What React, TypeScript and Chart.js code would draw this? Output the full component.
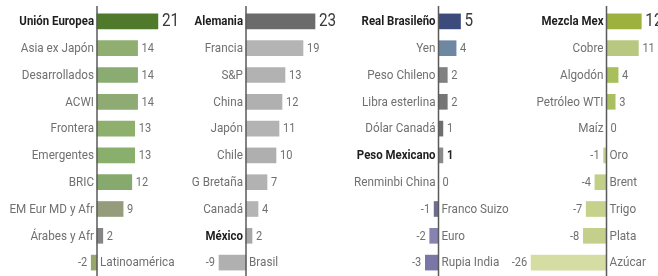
import React, { useEffect, useRef } from "react";
import { Chart, registerables } from "chart.js";

Chart.register(...registerables);

const regionLabels = ["Unión Europea", "Asia ex Japón", "Desarrollados", "ACWI", "Frontera", "Emergentes", "BRIC", "EM Eur MD y Afr", "Árabes y Afr", "Latinoamérica"];
const regionValues = [21, 14, 14, 14, 13, 13, 12, 9, 2, -2];
const regionColors = ["#4f7a2c", "#8fae70", "#8aab72", "#8fab74", "#8eb06c", "#8aae6c", "#86aa6e", "#949c7c", "#858585", "#98a66c"];

const stockLabels = ["Alemania", "Francia", "S&P", "China", "Japón", "Chile", "G Bretaña", "Canadá", "México", "Brasil"];
const stockValues = [23, 19, 13, 12, 11, 10, 7, 4, 2, -9];
const stockColors = ["#6b6b6b", "#b4b4b4", "#b2b2b2", "#b0b0b0", "#b3b3b3", "#afafaf", "#b2b2b2", "#b4b4b4", "#a8a8a8", "#b0b0b0"];

const fxLabels = ["Real Brasileño", "Yen", "Peso Chileno", "Libra esterlina", "Dólar Canadá", "Peso Mexicano", "Renminbi China", "Franco Suizo", "Euro", "Rupia India"];
const fxValues = [5, 4, 2, 2, 1, 1, 0, -1, -2, -3];
const fxColors = ["#3d4b7c", "#6e88a2", "#818181", "#767676", "#6e6e6e", "#8a8a8a", "#8a8a8a", "#6f6e8c", "#8683b0", "#7a76a8"];

const commLabels = ["Mezcla Mex", "Cobre", "Algodón", "Petróleo WTI", "Maíz", "Oro", "Brent", "Trigo", "Plata", "Azúcar"];
const commValues = [12, 11, 4, 3, 0, -1, -4, -7, -8, -26];
const commColors = ["#9db23e", "#b9c880", "#a9bf5c", "#aac060", "#c4d08a", "#c4d08a", "#c2cf86", "#c6d28c", "#c3cf8a", "#d5dda2"];

const boldLabels = ["Unión Europea", "Alemania", "Real Brasileño", "Mezcla Mex", "México", "Peso Mexicano"];

const panels = [
  { labels: regionLabels, values: regionValues, colors: regionColors, zero: 97, ppu: 2.9 },
  { labels: stockLabels, values: stockValues, colors: stockColors, zero: 246, ppu: 3.0 },
  { labels: fxLabels, values: fxValues, colors: fxColors, zero: 438.5, ppu: 4.4 },
  { labels: commLabels, values: commValues, colors: commColors, zero: 606.5, ppu: 2.9 },
];

const W = 658;
const H = 276;
const FONT = "Roboto, 'Liberation Sans', sans-serif";

function drawText(ctx: any, text: string, x: number, y: number, align: "left" | "right", sx: number) {
  ctx.save();
  ctx.translate(x, y);
  ctx.scale(sx, 1);
  ctx.textAlign = align;
  ctx.textBaseline = "middle";
  ctx.fillText(text, 0, 0);
  ctx.restore();
}

const labelPlugin = {
  id: "panelLabels",
  afterDatasetsDraw(chart: any) {
    const ctx = chart.ctx;
    ctx.save();
    panels.forEach((p, i) => {
      const scale = chart.scales["x" + i];
      const z = scale.getPixelForValue(0);
      const meta = chart.getDatasetMeta(i);
      meta.data.forEach((el: any, j: number) => {
        const v = p.values[j];
        const label = p.labels[j];
        const bold = boldLabels.includes(label);
        const y = el.y + 0.5;
        ctx.font = (bold ? "bold " : "") + "13px " + FONT;
        ctx.fillStyle = bold ? "#1e1e1e" : "#707070";
        const sx = bold ? 0.88 : 0.9;
        if (v >= 0) drawText(ctx, label, z - 3, y, "right", sx);
        else drawText(ctx, label, z + 3, y, "left", sx);

        const big = j === 0;
        const pm = label === "Peso Mexicano";
        ctx.font = (big ? "18px " : pm ? "bold 13px " : "13px ") + FONT;
        ctx.fillStyle = big ? "#3a3a3a" : pm ? "#222" : "#707070";
        const end = el.x;
        if (v >= 0) drawText(ctx, String(v), Math.max(end, z) + 4, y, "left", 0.85);
        else drawText(ctx, String(v), end - 4, y, "right", 0.85);
      });
      ctx.strokeStyle = "#5a5a5a";
      ctx.lineWidth = 1.5;
      ctx.beginPath();
      ctx.moveTo(z, 6);
      ctx.lineTo(z, H);
      ctx.stroke();
    });
    ctx.restore();
  },
};

export default function App() {
  const ref = useRef<HTMLCanvasElement | null>(null);

  useEffect(() => {
    if (!ref.current) return;
    const scales: any = {
      y: { display: false, offset: true, grid: { display: false } },
    };
    panels.forEach((p, i) => {
      scales["x" + i] = {
        type: "linear",
        display: false,
        min: -p.zero / p.ppu,
        max: (W - p.zero) / p.ppu,
        grid: { display: false },
      };
    });
    const chart = new Chart(ref.current, {
      type: "bar",
      data: {
        labels: regionLabels.map((_, k) => String(k)),
        datasets: panels.map((p, i) => ({
          label: "p" + i,
          data: p.values,
          backgroundColor: p.colors,
          xAxisID: "x" + i,
          yAxisID: "y",
          grouped: false,
          barThickness: 15,
          borderWidth: 0,
        })),
      },
      options: {
        indexAxis: "y",
        responsive: false,
        animation: false,
        layout: { padding: { top: 8, bottom: 0, left: 0, right: 0 } },
        plugins: { legend: { display: false }, tooltip: { enabled: false } },
        scales,
      },
      plugins: [labelPlugin],
    } as any);
    return () => chart.destroy();
  }, []);

  return (
    <div style={{ position: "absolute", left: 0, top: 0, width: W, height: H, background: "#fff" }}>
      <canvas ref={ref} width={W} height={H} style={{ display: "block" }} />
    </div>
  );
}
